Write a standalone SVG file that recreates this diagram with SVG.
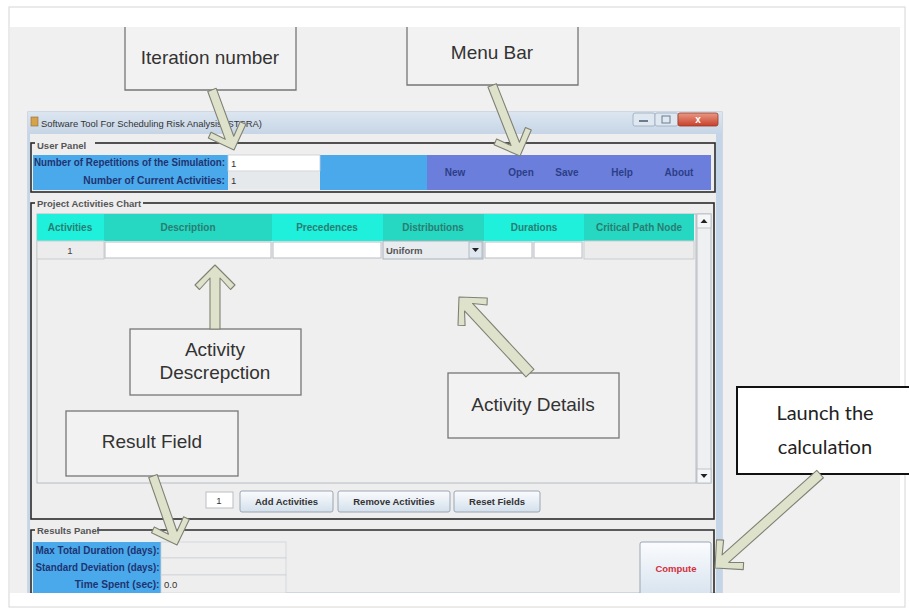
<svg xmlns="http://www.w3.org/2000/svg" width="909" height="610" viewBox="0 0 909 610">
<defs>
<linearGradient id="btn" x1="0" y1="0" x2="0" y2="1"><stop offset="0" stop-color="#fbfcfe"/><stop offset="1" stop-color="#d3e0ec"/></linearGradient>
<linearGradient id="title" x1="0" y1="0" x2="0" y2="1"><stop offset="0" stop-color="#dce6f1"/><stop offset="1" stop-color="#c6d5e6"/></linearGradient>
<linearGradient id="close" x1="0" y1="0" x2="0" y2="1"><stop offset="0" stop-color="#e89a86"/><stop offset="1" stop-color="#c8402a"/></linearGradient>
</defs>
<style>
.ui{font-family:"Liberation Sans",Arial,sans-serif;font-weight:bold;font-size:9.5px}
.lbl{fill:#1f3472;font-size:10.2px}
.menu{fill:#2b3f88;font-size:10px;text-anchor:middle}
.hdr{fill:#2a7d71;font-size:10px;text-anchor:middle}
.grp{fill:#555;font-weight:bold}
.panel{fill:none;stroke:#2a2a2a;stroke-width:1.6}
.cell{fill:#ffffff;stroke:#b9bec4;stroke-width:1}
.ro{fill:#ececec;stroke:#c9cdd1;stroke-width:1}
.btn{fill:url(#btn);stroke:#9aa6b3;stroke-width:1}
.bt{fill:#333;text-anchor:middle}
.note{fill:#f2f2f2;stroke:#767676;stroke-width:1.3}
.nt{font-family:"Liberation Sans",Arial,sans-serif;font-size:19px;fill:#333;text-anchor:middle}
.arr{fill:#dfe2cb;stroke:#7f8174;stroke-width:1.1;stroke-linejoin:round}
</style>
<!-- background -->
<rect x="0" y="0" width="909" height="610" fill="#ffffff"/>
<rect x="9" y="7" width="896" height="600" fill="none" stroke="#d6d6d6" stroke-width="1"/>
<rect x="10" y="27" width="890" height="566" fill="#f0f0f0"/>

<!-- window -->
<g id="window">
<rect x="28" y="112" width="694" height="481" fill="#eeeeee" stroke="#aebfd3" stroke-width="1"/>
<rect x="28" y="112" width="694" height="22" fill="url(#title)"/>
<rect x="716" y="134" width="6" height="459" fill="#c4d5e8"/>
<rect x="28" y="134" width="2" height="459" fill="#c4d5e8"/>
<rect x="31" y="117" width="7" height="9" fill="#d6a24a" stroke="#8a6a3a" stroke-width="0.6"/>
<text x="41" y="127" font-family="Liberation Sans,Arial,sans-serif" font-size="9.2px" fill="#333" textLength="221" lengthAdjust="spacingAndGlyphs">Software Tool For Scheduling Risk Analysis.(STSRA)</text>
<rect x="633" y="113" width="22" height="13" rx="2" fill="#dfe7f0" stroke="#9aaabb" stroke-width="0.8"/>
<rect x="639" y="120" width="9" height="2" fill="#6a7c90"/>
<rect x="655" y="113" width="23" height="13" rx="2" fill="#dfe7f0" stroke="#9aaabb" stroke-width="0.8"/>
<rect x="662" y="116" width="8" height="7" fill="none" stroke="#6a7c90" stroke-width="1"/>
<rect x="678" y="113" width="40" height="13" rx="2" fill="url(#close)" stroke="#9a3a2a" stroke-width="0.8"/>
<text x="698" y="123" font-family="Liberation Sans,Arial,sans-serif" font-size="10px" font-weight="bold" fill="#fff" text-anchor="middle">x</text>
</g>

<!-- User panel -->
<g id="user-panel">
<rect class="panel" x="31" y="143" width="684" height="49"/>
<rect x="33" y="155" width="195" height="35" fill="#4aa9ea"/>
<rect x="320" y="155" width="107" height="35" fill="#4aa9ea"/>
<rect x="427" y="155" width="284" height="35" fill="#6b7edb"/>
<rect x="228" y="155" width="92" height="16" fill="#ffffff" stroke="#c6ccd2" stroke-width="0.8"/>
<rect x="228" y="172" width="92" height="17" fill="#e6e9ec"/>
<rect x="35" y="140" width="60" height="10" fill="#eeeeee"/>
<text class="ui grp" x="37" y="149">User Panel</text>
<text class="ui lbl" x="225" y="166" text-anchor="end" textLength="191" lengthAdjust="spacingAndGlyphs">Number of Repetitions of the Simulation:</text>
<text class="ui lbl" x="225" y="184" text-anchor="end">Number of Current Activities:</text>
<text x="231" y="167" font-family="Liberation Sans,Arial,sans-serif" font-size="9.5px" fill="#333">1</text>
<text x="231" y="184" font-family="Liberation Sans,Arial,sans-serif" font-size="9.5px" fill="#333">1</text>
<text class="ui menu" x="455" y="176">New</text>
<text class="ui menu" x="521" y="176">Open</text>
<text class="ui menu" x="567" y="176">Save</text>
<text class="ui menu" x="622" y="176">Help</text>
<text class="ui menu" x="679" y="176">About</text>
</g>

<!-- Project activities chart -->
<g id="activities-chart">
<rect class="panel" x="31" y="203" width="683" height="316"/>
<rect x="35" y="198" width="108" height="10" fill="#eeeeee"/>
<text class="ui grp" x="37" y="207">Project Activities Chart</text>
<rect x="37" y="214" width="659" height="269" fill="#efefef" stroke="#b5bbc2" stroke-width="1"/>
<rect x="37" y="214" width="67" height="27" fill="#1ef0dc"/>
<rect x="104" y="214" width="168" height="27" fill="#26d7c1"/>
<rect x="272" y="214" width="111" height="27" fill="#1ef0dc"/>
<rect x="383" y="214" width="101" height="27" fill="#26d7c1"/>
<rect x="484" y="214" width="100" height="27" fill="#1ef0dc"/>
<rect x="584" y="214" width="110" height="27" fill="#26d7c1"/>
<text class="ui hdr" x="70" y="231">Activities</text>
<text class="ui hdr" x="188" y="231">Description</text>
<text class="ui hdr" x="327" y="231">Precedences</text>
<text class="ui hdr" x="433" y="231">Distributions</text>
<text class="ui hdr" x="534" y="231">Durations</text>
<text class="ui hdr" x="639" y="231">Critical Path Node</text>
<rect class="ro" x="37" y="241" width="67" height="18"/>
<rect class="cell" x="105" y="242" width="166" height="16"/>
<rect class="cell" x="273" y="242" width="108" height="16"/>
<rect x="383" y="241" width="100" height="18" fill="#e9ecef" stroke="#a9b1ba" stroke-width="1"/>
<rect x="469" y="242" width="13" height="16" fill="#dfe7f0" stroke="#a9b1ba" stroke-width="0.8"/>
<polygon points="472,248 479,248 475.5,252" fill="#222"/>
<rect class="cell" x="485" y="242" width="47" height="16"/>
<rect class="cell" x="534" y="242" width="48" height="16"/>
<rect class="ro" x="584" y="241" width="110" height="18"/>
<text x="70" y="254" font-family="Liberation Sans,Arial,sans-serif" font-size="9.5px" fill="#444" text-anchor="middle">1</text>
<text class="ui" x="386" y="254" fill="#555">Uniform</text>
<rect x="697" y="214" width="14" height="269" fill="#eef0f2" stroke="#b5bbc2" stroke-width="1"/>
<rect x="697" y="214" width="14" height="14" fill="#f4f6f8" stroke="#b5bbc2" stroke-width="0.8"/>
<polygon points="700.5,223 707.5,223 704,219" fill="#222"/>
<rect x="697" y="469" width="14" height="14" fill="#f4f6f8" stroke="#b5bbc2" stroke-width="0.8"/>
<polygon points="700.5,474 707.5,474 704,478" fill="#222"/>
<rect x="206" y="492" width="27" height="16" fill="#ffffff" stroke="#b9bec4" stroke-width="1"/>
<text x="219" y="504" font-family="Liberation Sans,Arial,sans-serif" font-size="9.5px" fill="#333" text-anchor="middle">1</text>
<rect class="btn" x="240" y="491" width="93" height="21" rx="2"/>
<text class="ui bt" x="286.5" y="505">Add Activities</text>
<rect class="btn" x="338" y="491" width="112" height="21" rx="2"/>
<text class="ui bt" x="394" y="505">Remove Activities</text>
<rect class="btn" x="454" y="491" width="86" height="21" rx="2"/>
<text class="ui bt" x="497" y="505">Reset Fields</text>
</g>

<!-- Results panel -->
<g id="results-panel">
<path class="panel" d="M31,593 V530 H714 V593"/>
<rect x="35" y="525" width="62" height="10" fill="#eeeeee"/>
<text class="ui grp" x="37" y="534">Results Panel</text>
<rect x="33" y="542" width="128" height="51" fill="#4aa9ea"/>
<rect x="161" y="542" width="125" height="16" fill="#eeeeee" stroke="#cdd1d5" stroke-width="0.8"/>
<rect x="161" y="558" width="125" height="17" fill="#eeeeee" stroke="#cdd1d5" stroke-width="0.8"/>
<rect x="161" y="575" width="125" height="18" fill="#eeeeee" stroke="#cdd1d5" stroke-width="0.8"/>
<text class="ui lbl" x="159.5" y="554" text-anchor="end" textLength="124" lengthAdjust="spacingAndGlyphs">Max Total Duration (days):</text>
<text class="ui lbl" x="159.5" y="571" text-anchor="end" textLength="124" lengthAdjust="spacingAndGlyphs">Standard Deviation (days):</text>
<text class="ui lbl" x="159.5" y="588" text-anchor="end">Time Spent (sec):</text>
<text x="164" y="588" font-family="Liberation Sans,Arial,sans-serif" font-size="9.5px" fill="#333">0.0</text>
<rect class="btn" x="640" y="542" width="71" height="60" rx="2"/>
<text class="ui" x="676" y="572" fill="#d2303c" text-anchor="middle">Compute</text>
</g>

<!-- mask bottom crop -->
<rect x="10" y="593" width="894" height="13" fill="#ffffff"/>

<!-- annotation boxes -->
<g id="note-iteration">
<rect x="125" y="27" width="171" height="63" fill="#f2f2f2"/>
<path class="note" fill="none" d="M125,27 V90 H296 V27"/>
<text class="nt" x="210" y="64">Iteration number</text>
</g>
<g id="note-menubar">
<rect x="407" y="27" width="171" height="58" fill="#f2f2f2"/>
<path class="note" fill="none" d="M407,27 V85 H578 V27"/>
<text class="nt" x="492" y="59">Menu Bar</text>
</g>
<g id="note-activity-desc">
<rect class="note" x="130" y="329" width="171" height="66"/>
<text class="nt" x="215" y="356" font-size="18px">Activity</text>
<text class="nt" x="215" y="379" font-size="18px">Descrepction</text>
</g>
<g id="note-activity-details">
<rect class="note" x="448" y="373" width="171" height="65"/>
<text class="nt" x="533" y="411">Activity Details</text>
</g>
<g id="note-result">
<rect class="note" x="66" y="411" width="172" height="65"/>
<text class="nt" x="152" y="448">Result Field</text>
</g>
<g id="note-launch">
<rect x="737" y="387" width="180" height="87" fill="#ffffff" stroke="#111" stroke-width="2"/>
<text x="825" y="420" font-family="Lato,'Open Sans',sans-serif" font-size="20px" fill="#222" text-anchor="middle">Launch the</text>
<text x="825" y="454" font-family="Lato,'Open Sans',sans-serif" font-size="20px" fill="#222" text-anchor="middle">calculation</text>
</g>

<!-- connectors -->
<g id="connectors">
<polygon class="arr" transform="translate(234,150) rotate(69.9)" points="0,0 -20,-20 -24.5,-15.5 -13,-4.5 -64,-4.5 -64,4.5 -13,4.5 -24.5,15.5 -20,20"/>
<polygon class="arr" transform="translate(520,156) rotate(68.5)" points="0,0 -20,-20 -24.5,-15.5 -13,-4.5 -76,-4.5 -76,4.5 -13,4.5 -24.5,15.5 -20,20"/>
<polygon class="arr" transform="translate(215,265) rotate(-90)" points="0,0 -20,-20 -24.5,-15.5 -13,-5 -64,-5 -64,5 -13,5 -24.5,15.5 -20,20"/>
<polygon class="arr" transform="translate(459,297) rotate(-133)" points="0,0 -20,-20 -25,-15 -14,-5.5 -104,-5.5 -104,5.5 -14,5.5 -25,15 -20,20"/>
<polygon class="arr" transform="translate(177,545) rotate(70.8)" points="0,0 -20,-20 -24.5,-15.5 -13,-4.5 -73,-4.5 -73,4.5 -13,4.5 -24.5,15.5 -20,20"/>
<polygon class="arr" transform="translate(715,568) rotate(138.2)" points="0,0 -20,-20 -25,-15 -14,-5 -141,-5 -141,5 -14,5 -25,15 -20,20"/>
</g>
</svg>
